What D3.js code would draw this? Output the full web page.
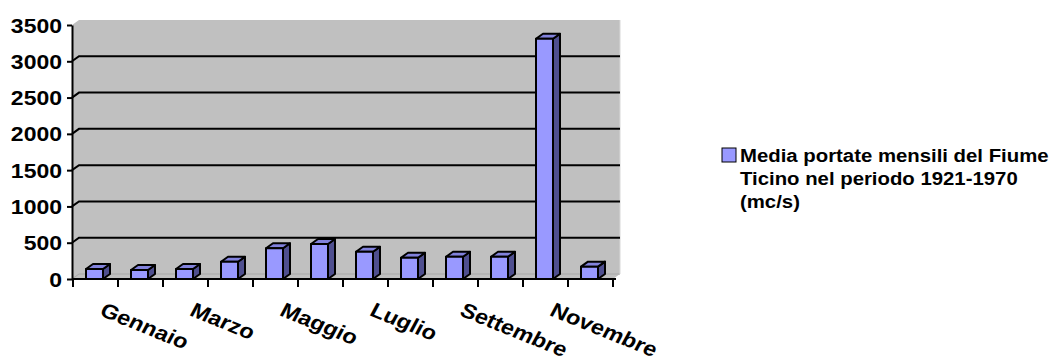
<!DOCTYPE html>
<html><head><meta charset="utf-8">
<script src="https://cdn.jsdelivr.net/npm/d3@7/dist/d3.min.js"></script>
<style>html,body{margin:0;padding:0;background:#fff;}svg{display:block;}</style>
</head><body>
<svg id="c" width="1055" height="363"></svg>
<script>
const months = ["Gennaio","Febbraio","Marzo","Aprile","Maggio","Giugno","Luglio","Agosto","Settembre","Ottobre","Novembre","Dicembre"];
const values = [138, 124, 138, 238, 423, 482, 376, 293, 307, 307, 3310, 170];
const yTicks = [0, 500, 1000, 1500, 2000, 2500, 3000, 3500];
const labelMonths = ["Gennaio","Marzo","Maggio","Luglio","Settembre","Novembre"];
const legendLines = ["Media portate mensili del Fiume", "Ticino nel periodo 1921-1970", "(mc/s)"];

const svg = d3.select("#c");
const font = "'Liberation Sans', Arial, sans-serif";
const x = d3.scaleBand().domain(months).range([73, 613]).paddingInner(0).paddingOuter(0);
const y = d3.scaleLinear().domain([0, 3500]).range([279, 25]);
const dx = 7, dy = -5;
const x0 = 72, xR = x.range()[1];

// walls
const g = svg.append("g");
g.append("polygon").attr("points", [[x0, y(3500)], [x0+dx, y(3500)+dy], [xR+dx, y(3500)+dy], [xR+dx, y(0)+dy], [xR, y(0)], [x0, y(0)]].map(p=>p.join(",")).join(" "))
  .attr("fill", "#c0c0c0");
g.append("line").attr("x1", x0+dx).attr("x2", xR+dx).attr("y1", y(0)+dy).attr("y2", y(0)+dy).attr("stroke", "#a8a8a8").attr("stroke-width", 1);
g.append("line").attr("x1", x0).attr("x2", x0+dx).attr("y1", y(0)).attr("y2", y(0)+dy).attr("stroke", "#a8a8a8").attr("stroke-width", 1);
g.append("line").attr("x1", xR+dx).attr("x2", xR+dx).attr("y1", y(3500)+dy).attr("y2", y(0)+dy).attr("stroke", "#d8d8d8").attr("stroke-width", 1);

// gridlines
yTicks.filter(v => v > 0 && v < 3500).forEach(v => {
  g.append("path").attr("d", `M${x0},${y(v)}L${x0+dx},${y(v)+dy}L${xR+dx},${y(v)+dy}`)
    .attr("fill", "none").attr("stroke", "#000").attr("stroke-width", 2);
});

// bars
const bw = 17, off = 13;
months.forEach((m, i) => {
  const v = values[i];
  const bx = x(m) + off, top = y(v), bot = y(0);
  const bg = svg.append("g").attr("stroke", "#000").attr("stroke-width", 2).attr("stroke-linejoin", "round");
  bg.append("polygon").attr("points", [[bx+bw, top], [bx+bw+dx, top+dy], [bx+bw+dx, bot+dy], [bx+bw, bot]].map(p=>p.join(",")).join(" ")).attr("fill", "#4f4f8f");
  bg.append("polygon").attr("points", [[bx, top], [bx+dx, top+dy], [bx+bw+dx, top+dy], [bx+bw, top]].map(p=>p.join(",")).join(" ")).attr("fill", "#8282dc");
  bg.append("rect").attr("x", bx).attr("y", top).attr("width", bw).attr("height", bot-top).attr("fill", "#9999ff");
});

// y axis
const ya = svg.append("g").attr("transform", `translate(${x0},0)`)
  .call(d3.axisLeft(y).tickValues(yTicks).tickSize(5).tickSizeOuter(0).tickFormat(d3.format("d")));
ya.select(".domain").attr("stroke", "#000").attr("stroke-width", 2);
ya.selectAll(".tick line").attr("stroke", "#000").attr("stroke-width", 2);
ya.selectAll(".tick text").each(function() {
  const t = d3.select(this);
  t.attr("x", null).attr("dy", null).attr("text-anchor", "end")
   .attr("transform", "translate(-10,7) scale(1.15,1)")
   .style("font-family", font).style("font-weight", "bold").style("font-size", "20px").attr("fill", "#000");
});

// x axis
svg.append("line").attr("x1", x0).attr("x2", xR+3).attr("y1", y(0)).attr("y2", y(0)).attr("stroke", "#000").attr("stroke-width", 2);
months.concat(["__end"]).forEach((m, i) => {
  const tx = m === "__end" ? xR : x(m);
  svg.append("line").attr("x1", tx).attr("x2", tx).attr("y1", y(0)).attr("y2", y(0)+8).attr("stroke", "#000").attr("stroke-width", 2);
});
labelMonths.forEach(m => {
  const cx = x(m) + x.bandwidth()/2;
  svg.append("text").text(m)
    .attr("transform", `translate(${cx+3},315) scale(1.15,1) rotate(25)`)
    .style("font-family", font).style("font-weight", "bold").style("font-size", "20.5px").attr("fill", "#000");
});

// legend
svg.append("rect").attr("x", 722).attr("y", 148).attr("width", 14).attr("height", 14).attr("fill", "#9999ff").attr("stroke", "#000").attr("stroke-width", 1);
legendLines.forEach((t, i) => {
  svg.append("text").text(t).attr("transform", `translate(740,${162 + i*23}) scale(1.1,1)`)
    .style("font-family", font).style("font-weight", "bold").style("font-size", "18.5px").attr("fill", "#000");
});
</script>
</body></html>
